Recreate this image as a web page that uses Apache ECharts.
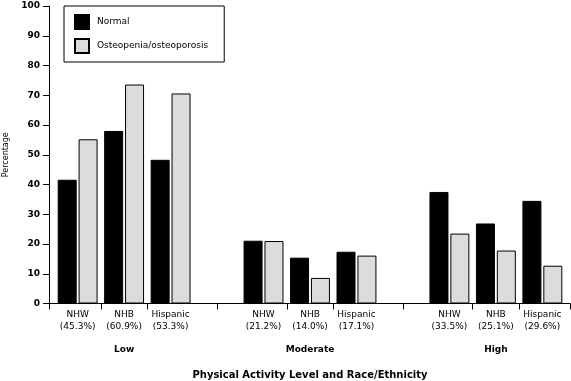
<!DOCTYPE html>
<html><head><meta charset="utf-8">
<script src="https://cdn.jsdelivr.net/npm/echarts@6/dist/echarts.min.js"></script>
<style>html,body{margin:0;padding:0;background:#fff}#c{width:571px;height:381px}</style>
</head><body><div id="c"></div>
<script>
// ---- data ----
const levels = ['Low', 'Moderate', 'High'];
const races = ['NHW', 'NHB', 'Hispanic'];
const racePct = [['45.3%', '60.9%', '53.3%'], ['21.2%', '14.0%', '17.1%'], ['33.5%', '25.1%', '29.6%']];
const normalVals = [[41.6, 58.0, 48.3], [21.1, 15.4, 17.4], [37.5, 26.9, 34.5]];
const osteoVals = [[55.2, 73.6, 70.6], [21.0, 8.6, 16.1], [23.5, 17.8, 12.7]];
const seriesNames = ['Normal', 'Osteopenia/osteoporosis'];
const xTitle = 'Physical Activity Level and Race/Ethnicity';
const yTitle = 'Percentage';

// ---- build categories (blank slot between activity levels) ----
const cats = [], groupCats = [], nData = [], oData = [];
const tickIdx = new Set();
levels.forEach((lv, g) => {
  if (g > 0) { cats.push(''); groupCats.push(''); nData.push(null); oData.push(null); tickIdx.add(2 * (cats.length - 1) + 1); }
  const start = cats.length;
  races.forEach((r, i) => {
    cats.push(r + '\n(' + racePct[g][i] + ')');
    groupCats.push(i === 1 ? lv : '');
    nData.push(normalVals[g][i]);
    oData.push(osteoVals[g][i]);
    if (i > 0) tickIdx.add(2 * (start + i));
  });
});
const halfCats = Array.from({length: 2 * cats.length + 1}, () => '');

const FONT = 'DejaVu Sans';
const chart = echarts.init(document.getElementById('c'), null, {renderer: 'canvas'});
chart.setOption({
  animation: false,
  backgroundColor: '#fff',
  textStyle: {fontFamily: FONT, color: '#000'},
  legend: {
    orient: 'vertical', left: 64, top: 6,
    borderColor: '#000', borderWidth: 1,
    padding: [8, 16, 8, 10],
    itemWidth: 14, itemHeight: 14, itemGap: 8,
    icon: 'rect',
    textStyle: {fontFamily: FONT, fontSize: 9, color: '#000', padding: [0, 0, 0, 3]},
    data: seriesNames
  },
  grid: [
    {left: 54.4, right: 5.4, top: 6, bottom: 77.5, outerBoundsMode: 'none', containLabel: false},
    {left: 49, right: 1, top: 6, bottom: 77.5, outerBoundsMode: 'none', containLabel: false}
  ],
  xAxis: [
    {type: 'category', gridIndex: 0, position: 'bottom', data: cats, boundaryGap: true,
     axisLine: {show: false}, axisTick: {show: false},
     axisLabel: {interval: 0, fontFamily: FONT, fontSize: 9, color: '#000', lineHeight: 12, margin: 5}},
    {type: 'category', gridIndex: 0, position: 'bottom', data: halfCats, boundaryGap: false,
     axisLine: {show: false}, axisLabel: {show: false},
     axisTick: {show: true, length: 6, lineStyle: {color: '#000'}, interval: (i) => tickIdx.has(i)}},
    {type: 'category', gridIndex: 0, position: 'bottom', data: groupCats, boundaryGap: true,
     axisLine: {show: false}, axisTick: {show: false},
     axisLabel: {interval: 0, fontFamily: FONT, fontSize: 9, fontWeight: 'bold', color: '#000', margin: 42},
     name: xTitle, nameLocation: 'middle', nameGap: 67,
     nameTextStyle: {fontFamily: FONT, fontSize: 10, fontWeight: 'bold', color: '#000'}},
    {type: 'value', gridIndex: 1, position: 'bottom', min: 0, max: 1, interval: 1,
     axisLine: {show: true, lineStyle: {color: '#000'}},
     axisTick: {show: true, length: 6, lineStyle: {color: '#000'}},
     axisLabel: {show: false}, splitLine: {show: false}}
  ],
  yAxis: [
    {type: 'value', gridIndex: 0, position: 'left', min: 0, max: 100, interval: 10, offset: 5.4,
     axisLine: {show: true, lineStyle: {color: '#000'}},
     axisTick: {show: true, length: 6, lineStyle: {color: '#000'}},
     axisLabel: {fontFamily: FONT, fontSize: 9, fontWeight: 'bold', color: '#000', margin: 9},
     splitLine: {show: false},
     name: yTitle, nameLocation: 'middle', nameGap: 38.5, nameRotate: 90,
     nameTextStyle: {fontFamily: FONT, fontSize: 8, color: '#000'}},
    {type: 'value', gridIndex: 1, min: 0, max: 1, show: false}
  ],
  series: [
    {name: seriesNames[0], type: 'bar', xAxisIndex: 0, yAxisIndex: 0, data: nData,
     barWidth: 19, barGap: '10%',
     itemStyle: {color: '#000', borderColor: '#000', borderWidth: 1}},
    {name: seriesNames[1], type: 'bar', xAxisIndex: 0, yAxisIndex: 0, data: oData,
     barWidth: 19, barGap: '10%',
     itemStyle: {color: '#dcdcdc', borderColor: '#000', borderWidth: 1}}
  ]
});
</script>
</body></html>
